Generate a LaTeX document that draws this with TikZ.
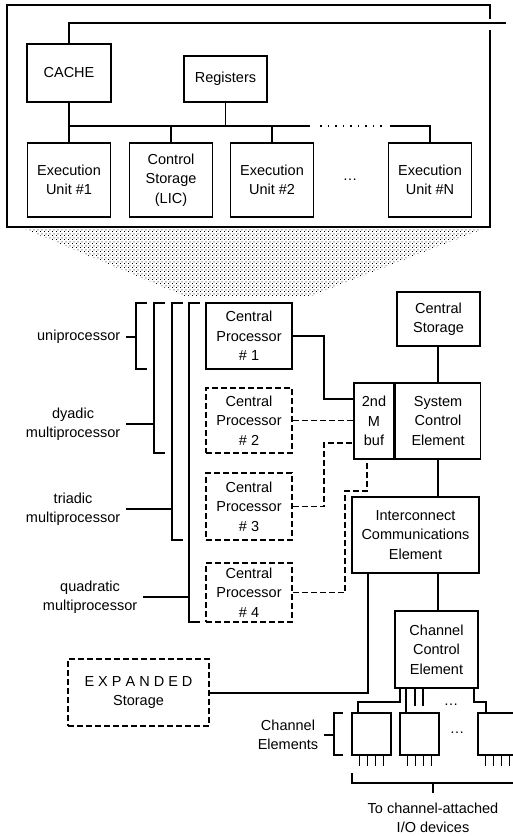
\documentclass[tikz,border=0pt]{standalone}
\usepackage{fontspec}
\setmainfont{Liberation Sans}
\usetikzlibrary{patterns.meta}
\tikzdeclarepattern{
  name=stipple, type=uncolored,
  bounding box={(0pt,0pt) and (4pt,4pt)}, tile size={(4pt,4pt)},
  code={
    \pgfpathrectangle{\pgfpoint{0pt}{0pt}}{\pgfpoint{1.1pt}{1.1pt}}
    \pgfpathrectangle{\pgfpoint{2pt}{2pt}}{\pgfpoint{1.1pt}{1.1pt}}
    \pgfusepath{fill}
  }
}
\tikzset{
  box/.style={draw, line width=1.6pt},
  dbox/.style={draw, line width=1.6pt, dash pattern=on 6pt off 3pt},
  dline/.style={line width=1.8pt, dash pattern=on 6pt off 3pt},
  lbl/.style={inner xsep=5pt, anchor=east},
}
\begin{document}
\begin{tikzpicture}[x=1pt, y=-1pt, line width=1.6pt,
  every node/.style={font=\fontsize{14.5}{19.5}\selectfont, align=center, inner sep=0pt}]
  \useasboundingbox (0,0) rectangle (513,836);
  % Processor complex, its right edge broken by the outgoing line
  \draw (490,19) -- (490,5) -- (7,5) -- (7,227) -- (490,227) -- (490,30);
  \node[box, minimum width=84pt, minimum height=58pt] (cache) at (69,73) {CACHE};
  \node[box, minimum width=83pt, minimum height=46pt] (regs) at (225.5,79) {Registers};
  \foreach \x/\nm/\txt in {69/eu1/{Execution\\Unit \#1}, 171/ctl/{Control\\Storage\\(LIC)},
                           272/eu2/{Execution\\Unit \#2}, 430/eun/{Execution\\Unit \#N}}
    \node[box, minimum width=83pt, minimum height=74pt] (\nm) at (\x,180) {\txt};
  \node (eudots) at (350,180) {\dots};
  \coordinate (out) at (506,23);
  \draw (cache.north) |- (out);
  % Internal bus
  \coordinate (bus) at (0,126);
  \coordinate (busend) at (310,126);
  \coordinate (busgo) at (390,126);
  \draw (cache.south) -- (eu1.north);
  \draw (eu1.north |- bus) -- (busend);
  \draw[line width=1.4pt, dash pattern=on 1.5pt off 6pt] (320,126) -- (385,126);
  \draw (busgo) -| (eun.north);
  \draw (regs.south) -- (regs.south |- bus);
  \draw (ctl.north) -- (ctl.north |- bus);
  \draw (eu2.north) -- (eu2.north |- bus);
  % Magnified view
  \fill[pattern=stipple, pattern color=black] (25,229) -- (483,229) -- (308,297) -- (187,297) -- cycle;
  % Central processors
  \foreach \y/\h/\k/\st in {336/66pt/1/box, 420.5/65pt/2/dbox, 506.5/67pt/3/dbox, 592.5/59pt/4/dbox}
    \node[\st, minimum width=86pt, minimum height=\h] (cp\k) at (249,\y) {Central\\Processor\\\# \k};
  % Configuration brackets
  \foreach \x/\yb in {136/369, 154/453, 172/540, 189/622}
    \draw (\x+11,303) -- (\x,303) -- (\x,\yb) -- (\x+11,\yb);
  \node[lbl] (uni) at (126,337) {uniprocessor};
  \node[lbl] (dya) at (126,424) {dyadic\\multiprocessor};
  \node[lbl] (tri) at (126,509) {triadic\\multiprocessor};
  \node[lbl] (qua) at (143,597) {quadratic\\multiprocessor};
  \coordinate (b1) at (136,0);
  \coordinate (b2) at (154,0);
  \coordinate (b3) at (172,0);
  \coordinate (b4) at (189,0);
  \draw (uni.east) -- (uni.east -| b1);
  \draw[line width=2.6pt] (dya.east) -- (dya.east -| b2);
  \draw (tri.east) -- (tri.east -| b3);
  \draw[line width=2.6pt] (qua.east) -- (qua.east -| b4);
  % Storage and system control
  \node[box, minimum width=83pt, minimum height=54pt] (cstore) at (438.5,319) {Central\\Storage};
  \node[box, minimum width=40pt, minimum height=76pt] (mbuf) at (374,421) {2nd\\M\\buf};
  \node[box, minimum width=85pt, minimum height=76pt, anchor=west] (sce) at (mbuf.east) {System\\Control\\Element};
  \node[box, minimum width=127pt, minimum height=76pt] (ice) at (415.5,535) {Interconnect\\Communications\\Element};
  \node[box, minimum width=83pt, minimum height=77pt] (cce) at (436.5,649.5) {Channel\\Control\\Element};
  \coordinate (spine) at (438,0);
  \draw (spine |- cstore.south) -- (spine |- sce.north);
  \draw (spine |- sce.south) -- (spine |- ice.north);
  \draw (spine |- ice.south) -- (spine |- cce.north);
  % Processor links into the buffer
  \coordinate (j1) at (324,399);
  \coordinate (j3) at (324,443);
  \coordinate (j4) at (345,491);
  \draw (cp1.east) -| (j1) -- (j1 -| mbuf.west);
  \draw[dline] (cp2.east) -- (cp2.east -| mbuf.west);
  \draw[dline] (cp3.east) -| (j3) -- (j3 -| mbuf.west);
  \draw[dline] (cp4.east) -| (j4) -| ([xshift=-7pt]mbuf.south);
  % Expanded storage
  \node[dbox, minimum width=141pt, minimum height=67pt] (xstore) at (138.5,692.5) {E X P A N D E D\\Storage};
  \coordinate (xlink) at (368,693);
  \draw (xlink |- ice.south) -- (xlink) -- (xlink -| xstore.east);
  % Channel elements with their pins
  \foreach \x/\k in {371.5/1, 419.5/2, 497.5/3} {
    \node[box, minimum width=39pt, minimum height=42pt] (ce\k) at (\x,734) {};
    \foreach \d in {8,16,24,32}
      \draw[line width=1.3pt] ([xshift=\d]ce\k.south west) -- ++(0,10);
  }
  \node (cdots1) at (451,705) {\dots};
  \node (cdots2) at (457,733) {\dots};
  \draw ([xshift=6pt]cce.south west) |- ([xshift=7pt,yshift=10pt]ce1.north west) -- ([xshift=7pt]ce1.north west);
  \draw ([xshift=12pt]cce.south west) -- ([xshift=12pt]cce.south west |- ce2.north);
  \foreach \d in {21,29}
    \draw ([xshift=\d]cce.south west) -- ++(0,17);
  \draw ([xshift=-5pt]cce.south east) |- ([xshift=9pt,yshift=10pt]ce3.north west) -- ([xshift=9pt]ce3.north west);
  \node[lbl] (chel) at (324,735) {Channel\\Elements};
  \coordinate (cebr) at (334,0);
  \draw (343,713) -- (334,713) -- (334,755) -- (343,755);
  \draw (chel.east) -- (chel.east -| cebr);
  % To the I/O devices
  \coordinate (iol) at (352,773);
  \coordinate (ior) at (520,783);
  \coordinate (io) at (433,783);
  \node (iolbl) at (433,818) {To channel-attached\\I/O devices};
  \draw (iol) |- (ior);
  \draw (io) -- ++(0,10);
\end{tikzpicture}
\end{document}
